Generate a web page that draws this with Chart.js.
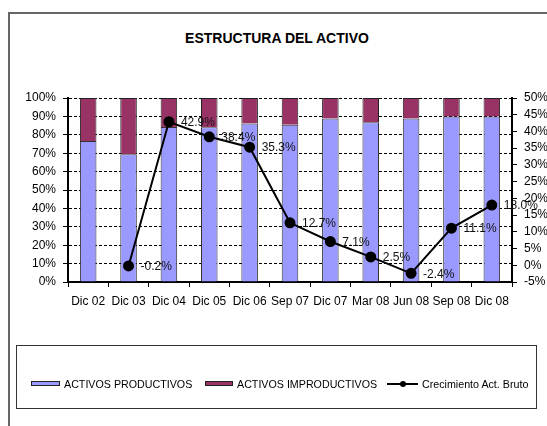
<!DOCTYPE html>
<html>
<head>
<meta charset="utf-8">
<script src="https://cdn.jsdelivr.net/npm/chart.js@4/dist/chart.umd.min.js"></script>
<style>
  html, body { margin: 0; padding: 0; background: #fff; }
  body { width: 547px; height: 426px; position: relative; overflow: hidden; font-family: "Liberation Sans", Arial, sans-serif; }
  #frame { position: absolute; left: 8px; top: 12px; width: 600px; height: 500px; border-left: 2px solid #666; border-top: 2px solid #666; box-sizing: border-box; }
  #title { position: absolute; left: 0; width: 554px; top: 30px; text-align: center; font-weight: bold; font-size: 14px; color: #000; }
  #chartWrap { position: absolute; left: 0; top: 0; width: 547px; height: 426px; }
  #legend { position: absolute; left: 16px; top: 345px; width: 521px; height: 64px; border: 1px solid #333; box-sizing: border-box; }
  .sw { position: absolute; height: 5px; border: 1px solid #222; box-sizing: border-box; }
  .lt { position: absolute; font-size: 10.7px; color: #000; white-space: nowrap; line-height: 12px; }
</style>
</head>
<body>
<div id="frame"></div>
<div id="title">ESTRUCTURA DEL ACTIVO</div>
<div id="chartWrap"><canvas id="c" width="547" height="426"></canvas></div>
<div id="legend"></div>
<script>
const categories = ["Dic 02","Dic 03","Dic 04","Dic 05","Dic 06","Sep 07","Dic 07","Mar 08","Jun 08","Sep 08","Dic 08"];
const activosProductivos = [76.6, 69.4, 84.2, 84.1, 86.2, 85.5, 88.8, 86.8, 88.8, 90.0, 90.0];
const activosImproductivos = [23.4, 30.6, 15.8, 15.9, 13.8, 14.5, 11.2, 13.2, 11.2, 10.0, 10.0];
const crecimientoActBruto = [null, -0.2, 42.9, 38.4, 35.3, 12.7, 7.1, 2.5, -2.4, 11.1, 18.0];
const seriesNames = ["ACTIVOS PRODUCTIVOS", "ACTIVOS IMPRODUCTIVOS", "Crecimiento Act. Bruto"];

const COLOR_PROD = "#9999FF";
const COLOR_IMPROD = "#993366";
const FONT = "'Liberation Sans', Arial, sans-serif";

// Legend (HTML)
(function buildLegend() {
  const lg = document.getElementById("legend");
  const top = 384 - 345 - 1; // center y relative to box
  const items = [
    { type: "box", color: COLOR_PROD, sx: 31 - 17, sw: 29, tx: 64 - 17, text: seriesNames[0] },
    { type: "box", color: COLOR_IMPROD, sx: 205 - 17, sw: 28, tx: 237 - 17, text: seriesNames[1] },
    { type: "line", sx: 387 - 17, sw: 31, tx: 422 - 17, text: seriesNames[2] }
  ];
  items.forEach(it => {
    if (it.type === "box") {
      const s = document.createElement("div");
      s.className = "sw";
      s.style.left = it.sx + "px"; s.style.width = it.sw + "px";
      s.style.top = (top - 3) + "px"; s.style.background = it.color;
      lg.appendChild(s);
    } else {
      const l = document.createElement("div");
      l.style.cssText = "position:absolute;height:2px;background:#000;left:" + it.sx + "px;width:" + it.sw + "px;top:" + (top - 1) + "px";
      lg.appendChild(l);
      const d = document.createElement("div");
      d.style.cssText = "position:absolute;width:6px;height:6px;border-radius:3px;background:#000;left:" + (it.sx + it.sw / 2 - 3) + "px;top:" + (top - 3) + "px";
      lg.appendChild(d);
    }
    const t = document.createElement("div");
    t.className = "lt";
    t.textContent = it.text;
    t.style.left = it.tx + "px";
    t.style.top = (top - 6) + "px";
    lg.appendChild(t);
  });
})();

const dataLabelPlugin = {
  id: "pointLabels",
  afterDatasetsDraw(chart) {
    const ctx = chart.ctx;
    const meta = chart.getDatasetMeta(0);
    const data = chart.data.datasets[0].data;
    ctx.save();
    ctx.font = "12px " + FONT;
    ctx.fillStyle = "#111";
    ctx.textAlign = "left";
    ctx.textBaseline = "middle";
    meta.data.forEach((pt, i) => {
      const v = data[i];
      if (v === null || v === undefined) return;
      ctx.fillText(v.toFixed(1) + "%", pt.x + 12, pt.y + 1);
    });
    ctx.restore();
  }
};

new Chart(document.getElementById("c"), {
  type: "bar",
  data: {
    labels: categories,
    datasets: [
      {
        type: "line",
        label: seriesNames[2],
        data: crecimientoActBruto,
        yAxisID: "y1",
        borderColor: "#000",
        borderWidth: 2,
        backgroundColor: "#000",
        pointBackgroundColor: "#000",
        pointBorderColor: "#000",
        pointRadius: 4.5,
        pointHoverRadius: 4.5,
        tension: 0,
        order: 0
      },
      {
        label: seriesNames[0],
        data: activosProductivos,
        backgroundColor: COLOR_PROD,
        borderColor: "#333",
        borderWidth: 1,
        yAxisID: "y",
        order: 1
      },
      {
        label: seriesNames[1],
        data: activosImproductivos,
        backgroundColor: COLOR_IMPROD,
        borderColor: "#222",
        borderWidth: 1,
        yAxisID: "y",
        order: 1
      }
    ]
  },
  options: {
    responsive: false,
    animation: false,
    events: [],
    datasets: { bar: { barPercentage: 0.41, categoryPercentage: 1 } },
    layout: { padding: { top: 98, bottom: 104, left: 0, right: 0 } },
    plugins: { legend: { display: false }, title: { display: false }, tooltip: { enabled: false } },
    scales: {
      x: {
        stacked: true,
        grid: { display: true, drawOnChartArea: false, drawTicks: true, tickLength: 5, color: "#000", lineWidth: 1, offset: true },
        border: { display: true, color: "#000", width: 2 },
        ticks: { color: "#000", font: { family: FONT, size: 12 }, padding: 7, maxRotation: 0, autoSkip: false },
        afterFit(s) { s.height = 40; }
      },
      y: {
        stacked: true,
        position: "left",
        min: 0, max: 100,
        grid: { color: "#000", lineWidth: 1, tickLength: 5, drawTicks: true },
        border: { display: true, color: "#000", width: 2, dash: [3, 2] },
        ticks: { stepSize: 10, autoSkip: false, color: "#000", font: { family: FONT, size: 12 }, padding: 7, callback: v => v + "%" },
        afterFit(s) { s.width = 68; }
      },
      y1: {
        position: "right",
        min: -5, max: 50,
        grid: { drawOnChartArea: false, color: "#000", lineWidth: 1, tickLength: 5, drawTicks: true },
        border: { display: true, color: "#000", width: 2 },
        ticks: { stepSize: 5, autoSkip: false, color: "#000", font: { family: FONT, size: 12 }, padding: 7, callback: v => v + "%" },
        afterFit(s) { s.width = 35; }
      }
    }
  },
  plugins: [dataLabelPlugin]
});
</script>
</body>
</html>
